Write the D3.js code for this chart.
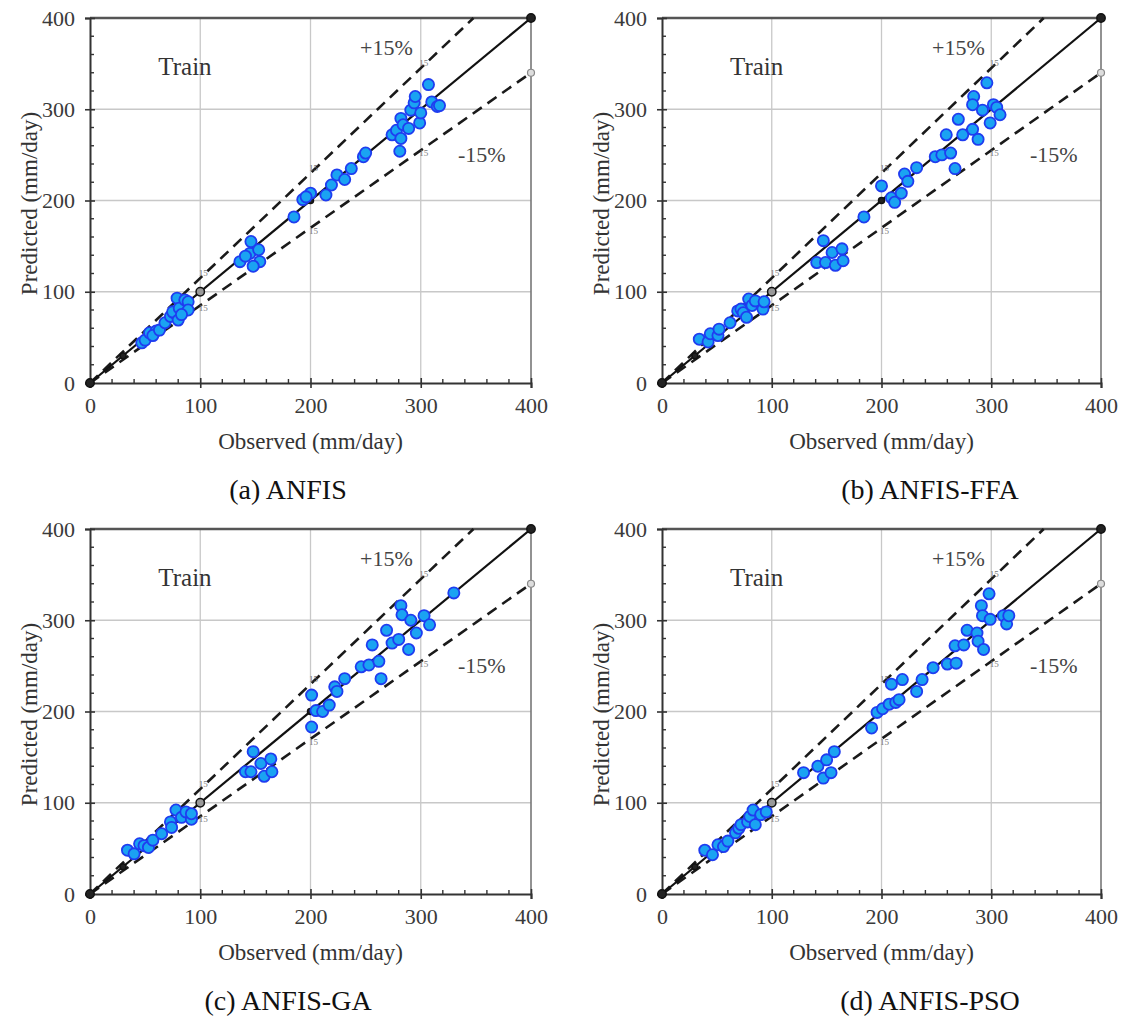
<!DOCTYPE html>
<html>
<head>
<meta charset="utf-8">
<script src="https://cdn.jsdelivr.net/npm/d3@7"></script>
<style>
  html, body { margin: 0; padding: 0; background: #fff; }
  svg text { font-family: "Liberation Serif", "Times New Roman", serif; }
</style>
</head>
<body>
<svg id="chart" width="1125" height="1027"></svg>
<script>
// Observed vs predicted evaporation (mm/day), training set, four models
const panelTitles = ["(a) ANFIS", "(b) ANFIS-FFA", "(c) ANFIS-GA", "(d) ANFIS-PSO"];
const axisTicks = [0, 100, 200, 300, 400];

const observedA = [47,50,54,60,57,63,68,73,76,75,79,81,86,89,89,80,83,
  136,146,145,153,154,148,141,185,193,200,196,214,219,224,231,237,248,250,
  274,278,282,284,282,281,289,291,294,295,299,300,307,310,315,317];
const predictedA = [44,47,55,57,52,58,66,73,77,78,93,82,91,89,80,69,75,
  133,155,142,146,133,128,139,182,201,208,204,206,217,228,223,235,248,252,
  272,277,290,283,268,254,279,299,307,314,285,296,327,308,303,304];

const observedB = [34,42,44,51,52,62,69,72,74,77,79,82,85,92,93,
  141,147,149,155,158,164,165,184,200,209,212,218,221,224,232,249,255,259,263,267,
  270,274,283,284,283,288,292,296,299,302,305,308];
const predictedB = [48,45,54,52,59,66,79,81,77,72,92,85,90,81,89,
  132,156,132,143,129,147,134,182,216,203,198,208,229,221,236,248,250,272,252,235,
  289,272,278,314,305,267,299,329,285,305,302,294];

const observedC = [34,40,45,49,53,57,65,73,74,78,83,87,92,92,
  141,146,148,155,158,164,165,201,201,205,211,217,222,224,231,246,253,256,262,264,
  269,274,280,282,283,289,291,296,303,308,330];
const predictedC = [48,44,55,53,51,59,66,79,73,92,84,90,82,88,
  134,134,156,143,129,148,134,183,218,201,200,207,227,222,236,249,251,273,255,236,
  289,275,279,316,306,268,300,286,305,295,330];

const observedD = [39,46,51,56,60,67,70,72,78,80,83,85,90,95,
  129,142,147,150,154,157,191,196,201,207,209,213,216,219,232,237,247,260,268,267,
  275,278,287,288,291,292,293,298,299,311,314,316];
const predictedD = [48,43,54,52,58,67,72,76,79,85,92,76,87,90,
  133,140,127,147,133,156,182,199,203,208,230,210,213,235,222,235,248,252,253,272,
  273,289,286,277,316,305,268,329,301,305,296,305];

// reference lines: 1:1 and ±15 %
const oneToOneMarks = [0, 30, 100, 200, 400];
const bandFactors = [1.15, 0.85];
const bandLabels = ["+15%", "-15%"];
const bandMarkX = [100, 200, 300];

const panelData = [
  [observedA, predictedA],
  [observedB, predictedB],
  [observedC, predictedC],
  [observedD, predictedD]
];

const frames = [
  {x0: 90, x1: 531, y0: 383, y1: 18, cap: 288},
  {x0: 662, x1: 1101, y0: 383, y1: 18, cap: 930},
  {x0: 90, x1: 531, y0: 894, y1: 529, cap: 288},
  {x0: 662, x1: 1101, y0: 894, y1: 529, cap: 930}
];

const svg = d3.select("#chart");

frames.forEach((f, i) => {
  const x = d3.scaleLinear().domain([0, 400]).range([f.x0, f.x1]);
  const y = d3.scaleLinear().domain([0, 400]).range([f.y0, f.y1]);
  const g = svg.append("g");

  // grid
  g.append("g").selectAll("line").data([100, 200, 300]).join("line")
    .attr("x1", d => x(d)).attr("x2", d => x(d))
    .attr("y1", y(0)).attr("y2", y(400))
    .attr("stroke", "#c8c8c8").attr("stroke-width", 1.3);
  g.append("g").selectAll("line").data([100, 200, 300]).join("line")
    .attr("y1", d => y(d)).attr("y2", d => y(d))
    .attr("x1", x(0)).attr("x2", x(400))
    .attr("stroke", "#c8c8c8").attr("stroke-width", 1.3);

  // frame top / right
  g.append("line").attr("x1", x(0)).attr("x2", x(400)).attr("y1", y(400)).attr("y2", y(400))
    .attr("stroke", "#555").attr("stroke-width", 2.5);
  g.append("line").attr("x1", x(400)).attr("x2", x(400)).attr("y1", y(0)).attr("y2", y(400))
    .attr("stroke", "#777").attr("stroke-width", 1.6);

  // axes
  const xAxis = d3.axisBottom(x).tickValues(axisTicks).tickSize(5).tickPadding(9);
  const yAxis = d3.axisLeft(y).tickValues(axisTicks).tickSize(5).tickPadding(10);
  const gx = g.append("g").attr("transform", `translate(0,${f.y0})`).call(xAxis);
  const gy = g.append("g").attr("transform", `translate(${f.x0},0)`).call(yAxis);
  [gx, gy].forEach(a => {
    a.attr("font-family", null);
    a.select(".domain").attr("stroke", "#333").attr("stroke-width", 2);
    a.selectAll(".tick line").attr("stroke", "#333").attr("stroke-width", 1.6);
    a.selectAll(".tick text").attr("font-size", 22).attr("fill", "#3a3a3a");
  });
  gx.selectAll(".tick line").attr("y1", -5);
  gy.selectAll(".tick line").attr("x1", 5);

  // minor ticks every 20
  const minor = d3.range(20, 400, 20).filter(v => v % 100 !== 0);
  g.append("g").selectAll("line").data(minor).join("line")
    .attr("x1", d => x(d)).attr("x2", d => x(d))
    .attr("y1", f.y0).attr("y2", f.y0 - 4)
    .attr("stroke", "#333").attr("stroke-width", 1.4);
  g.append("g").selectAll("line").data(minor).join("line")
    .attr("y1", d => y(d)).attr("y2", d => y(d))
    .attr("x1", f.x0).attr("x2", f.x0 + 4)
    .attr("stroke", "#333").attr("stroke-width", 1.4);

  // ±15 % dashed bands
  bandFactors.forEach(k => {
    const xEnd = Math.min(400, 400 / k);
    g.append("line")
      .attr("x1", x(0)).attr("y1", y(0))
      .attr("x2", x(xEnd)).attr("y2", y(xEnd * k))
      .attr("stroke", "#1a1a1a").attr("stroke-width", 2.6)
      .attr("stroke-dasharray", "11,7");
    // small point labels along the bands
    g.append("g").selectAll("text").data(bandMarkX).join("text")
      .attr("x", d => x(d) + 3)
      .attr("y", d => y(d * k) + (k > 1 ? -2 : 6))
      .attr("font-size", 9).attr("fill", "#777")
      .attr("text-anchor", "middle")
      .text("15");
  });
  // end marker of the -15 % band
  g.append("circle").attr("cx", x(400)).attr("cy", y(340)).attr("r", 3.5)
    .attr("fill", "#ddd").attr("stroke", "#888").attr("stroke-width", 1.2);

  // 1:1 line
  g.append("line").attr("x1", x(0)).attr("y1", y(0)).attr("x2", x(400)).attr("y2", y(400))
    .attr("stroke", "#111").attr("stroke-width", 2.2);
  g.append("g").selectAll("circle").data(oneToOneMarks).join("circle")
    .attr("cx", d => x(d)).attr("cy", d => y(d))
    .attr("r", d => (d === 0 || d === 400 || d === 100) ? 4.2 : 3)
    .attr("fill", d => d === 100 ? "#999" : "#222")
    .attr("stroke", "#111").attr("stroke-width", 1.5);

  // observations
  const [obs, pred] = panelData[i];
  g.append("g").selectAll("circle").data(d3.range(obs.length)).join("circle")
    .attr("cx", j => x(obs[j])).attr("cy", j => y(pred[j]))
    .attr("r", 5.6)
    .attr("fill", "#1aa3f2").attr("stroke", "#1f3df0").attr("stroke-width", 1.8);

  // annotations
  g.append("text").attr("x", x(62)).attr("y", y(346) + 8)
    .attr("font-size", 25).attr("fill", "#333").text("Train");
  g.append("text").attr("x", f.x0 + 270).attr("y", f.y1 + 37)
    .attr("font-size", 22).attr("fill", "#444").text(bandLabels[0]);
  g.append("text").attr("x", f.x0 + 368).attr("y", f.y1 + 144)
    .attr("font-size", 22).attr("fill", "#444").text(bandLabels[1]);

  // axis titles
  g.append("text").attr("x", (f.x0 + f.x1) / 2).attr("y", f.y0 + 66)
    .attr("text-anchor", "middle").attr("font-size", 23).attr("fill", "#333")
    .text("Observed (mm/day)");
  g.append("text")
    .attr("transform", `translate(${f.x0 - 53},${(f.y0 + f.y1) / 2 + 3}) rotate(-90)`)
    .attr("text-anchor", "middle").attr("font-size", 23).attr("fill", "#333")
    .text("Predicted (mm/day)");

  // panel caption
  g.append("text").attr("x", f.cap).attr("y", f.y0 + 116)
    .attr("text-anchor", "middle").attr("font-size", 28).attr("fill", "#111")
    .text(panelTitles[i]);
});
</script>
</body>
</html>
